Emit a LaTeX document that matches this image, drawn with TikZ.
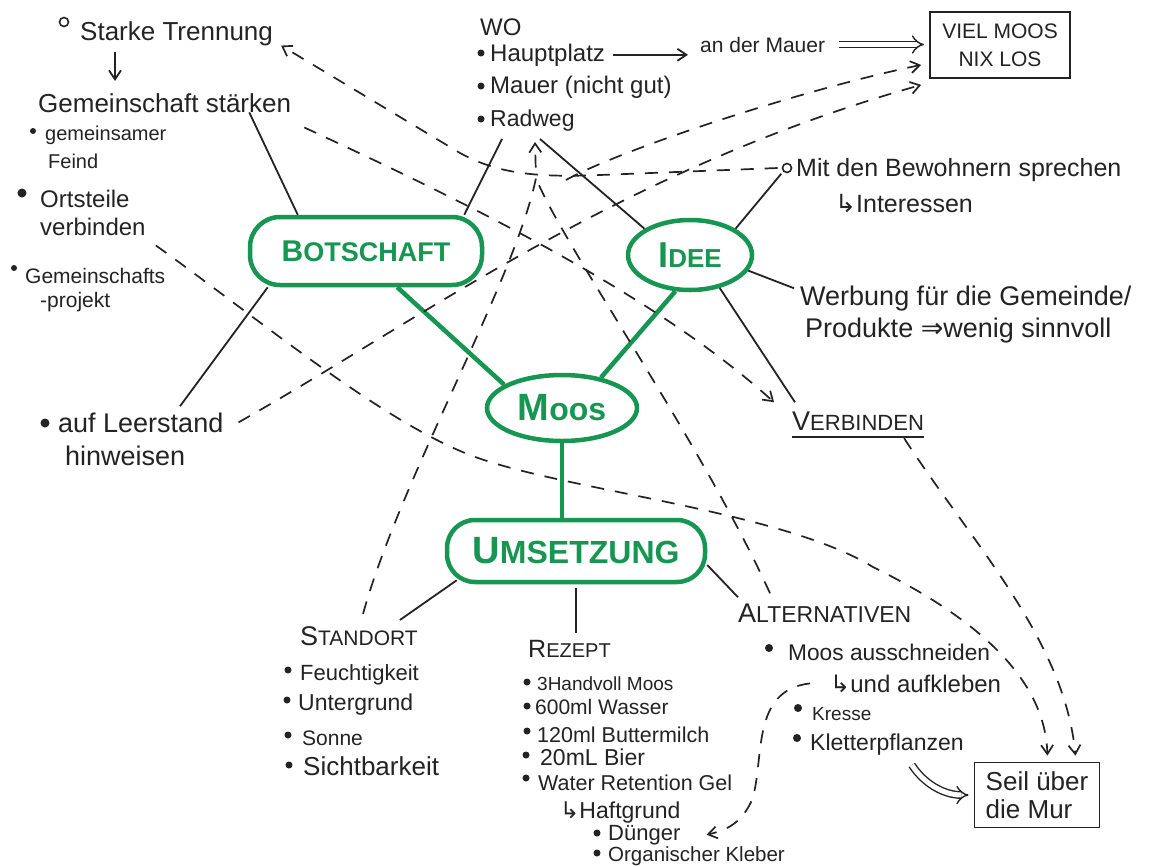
\documentclass[tikz,border=0pt]{standalone}
\usepackage{fontspec}
\setmainfont{Liberation Sans}
\newfontfamily\sym{DejaVu Sans}
\usetikzlibrary{arrows.meta,shapes.geometric,calc}
\definecolor{mgreen}{RGB}{22,150,80}
\definecolor{ink}{RGB}{35,35,35}
\newcommand\FS[1]{\fontsize{#1}{#1}\selectfont}
\newcommand\FSL[2]{\fontsize{#1}{#2}\selectfont}
\begin{document}
\begin{tikzpicture}[x=1pt,y=-1pt,
  >={Straight Barb[length=9pt,width=12pt]},
  txt/.style={anchor=base west, inner sep=0pt, text=ink, font=\FS{#1}},
  txt/.default=22,
  ln/.style={line width=1.8pt, draw=ink},
  dsh/.style={line width=1.7pt, draw=ink, dash pattern=on 13pt off 11pt},
  gln/.style={line width=4.5pt, draw=mgreen},
  gell/.style={ellipse, draw=mgreen, line width=4.5pt, inner sep=0pt, text=mgreen, font=\bfseries},
  grect/.style={rectangle, rounded corners=30pt, draw=mgreen, line width=4.5pt, inner sep=0pt, text=mgreen, font=\bfseries},
  hollow/.style={circle, draw=ink, line width=1.6pt, minimum size=9pt, inner sep=0pt},
  dbl/.style={line width=1.4pt, draw=ink, double, double distance=5pt, -{Implies}},
  sbox/.style={draw=ink, line width=1.8pt, align=center, text=ink, inner sep=0pt}
]
\useasboundingbox (0,0) rectangle (1155,865);
\fill[white] (0,0) rectangle (1155,865);

% ---------- left texts ----------
\node[hollow] (stc) at (64,22) {};
\node[txt=26] (st) at (80,40) {Starke Trennung};
\node[txt=26] (gs) at (38,112) {Gemeinschaft stärken};
\node[txt=20] (gf1) at (45,140) {gemeinsamer};
\node[txt=20] (gf2) at (48,168) {Feind};
\node[txt=24] (ov1) at (40,207) {Ortsteile};
\node[txt=24] (ov2) at (40,235) {verbinden};
\node[txt=21] (gp1) at (25,283) {Gemeinschafts};
\node[txt=21] (gp2) at (40,307) {-projekt};
\node[txt=27] (al1) at (58,432) {auf Leerstand};
\node[txt=27] (al2) at (65,465) {hinweisen};
\fill[ink] (33,131) circle (3pt) (22,193) circle (4.5pt) (14,268) circle (3pt) (45,423) circle (4.5pt);

% ---------- top texts ----------
\node[txt=24] (wo) at (480,35) {WO};
\node[txt=24] (hp) at (490,61) {Hauptplatz};
\node[txt=21] (adm) at (700,52) {an der Mauer};
\node[txt=24] (mn) at (490,93) {Mauer (nicht gut)};
\node[txt=23] (rw) at (490,126) {Radweg};
\fill[ink] (481,53) circle (3.5pt) (481,86) circle (3.5pt) (481,119) circle (3.5pt);
\node[sbox, minimum width=140pt, minimum height=66pt, font=\FSL{21}{28}] (vm) at (1000,45) {VIEL MOOS\\NIX LOS};

\node[hollow] (mc) at (787,168) {};
\node[txt=25] (mit) at (796,176) {Mit den Bewohnern sprechen};
\node[txt=25] (int) at (835,212) {{\sym ↳}Interessen};
\node[txt=27] (wb1) at (800,305) {Werbung für die Gemeinde/};
\node[txt=27] (wb2) at (805,337) {Produkte {\sym ⇒}wenig sinnvoll};
\node[txt=22] (vb) at (792,430) {{\FS{27}V}ERBINDEN};
\draw[ln] ([yshift=-7pt]vb.south west) -- ([yshift=-7pt]vb.south east);

% ---------- bottom texts ----------
\node[txt=21] (sd) at (300,645) {{\FS{27}S}TANDORT};
\node[txt=22] (f1) at (300,680) {Feuchtigkeit};
\node[txt=23] (f2) at (298,710) {Untergrund};
\node[txt=21] (f3) at (302,745) {Sonne};
\node[txt=26] (f4) at (303,775) {Sichtbarkeit};
\fill[ink] (288,670) circle (3.5pt) (287,700) circle (3.5pt) (288,735) circle (3.5pt) (289,765) circle (3.5pt);

\node[txt=20] (rz) at (528,657) {{\FS{25}R}EZEPT};
\node[txt=19] (r1) at (537,690) {3Handvoll Moos};
\node[txt=21] (r2) at (535,714) {600ml Wasser};
\node[txt=21.5] (r3) at (537,742) {120ml Buttermilch};
\node[txt=23] (r4) at (540,765) {20mL Bier};
\node[txt=21.5] (r5) at (538,790) {Water Retention Gel};
\node[txt=23] (r6) at (560,818) {{\sym ↳}Haftgrund};
\node[txt=22] (r7) at (608,840) {Dünger};
\node[txt=20.5] (r8) at (608,861) {Organischer Kleber};
\fill[ink] (527,682) circle (3.5pt) (527,706) circle (3.5pt) (527,731) circle (3.5pt) (526,755) circle (3.5pt) (526,778) circle (3.5pt) (597,833) circle (3.5pt) (597,853) circle (3.5pt);

\node[txt=23] (alt) at (738,622) {{\FS{27}A}LTERNATIVEN};
\node[txt=22.7] (a1) at (788,660) {Moos ausschneiden};
\node[txt=24] (a2) at (830,692) {{\sym ↳}und aufkleben};
\node[txt=19] (a3) at (812,720) {Kresse};
\node[txt=23] (a4) at (810,750) {Kletterpflanzen};
\fill[ink] (769,648) circle (4pt) (798,708) circle (4pt) (797,738) circle (4pt);
\node[sbox, minimum width=125pt, minimum height=65pt, align=left, font=\FSL{26}{28}] (sb) at (1037,795) {Seil über\\die Mur};

% ---------- green nodes ----------
\node[grect, minimum width=232pt, minimum height=68pt] (bot) at (366,251) {{\FS{30}B}{\FS{27}OTSCHAFT}};
\node[gell, minimum width=124pt, minimum height=70pt] (idee) at (690,255) {{\FS{36}I}{\FS{26}DEE}};
\node[gell, minimum width=150pt, minimum height=66pt] (moos) at (562,408) {{\FS{38}M}{\FS{32}oos}};
\node[grect, rounded corners=28pt, minimum width=258pt, minimum height=62pt] (ums) at (576,551) {{\FS{38}U}{\FS{32}MSETZUNG}};

\draw[gln] ([xshift=-87pt]bot.south east) -- (moos.158);
\draw[gln] (idee.248) -- (moos.38);
\draw[gln] (moos.south) -- (moos.south |- ums.north);

% ---------- solid black connectors ----------
\draw[ln] ([xshift=-42pt]gs.south east) -- ([xshift=50pt]bot.north west);
\draw[ln] ([xshift=20pt]bot.south west) -- ([shift={(122pt,6pt)}]al1.north west);
\draw[ln] ([xshift=-20pt]bot.north east) -- ([shift={(12pt,-8pt)}]rw.south west);
\draw[ln] ([shift={(50pt,-8pt)}]rw.south west) -- (idee.150);
\draw[ln] (idee.30) -- ([shift={(-2pt,-2pt)}]mc.south west);
\draw[ln] (idee.-15) -- ([shift={(-6pt,-3pt)}]wb1.north west);
\draw[ln] (idee.-48) -- ([shift={(3pt,9pt)}]vb.north west);
\draw[ln] ([shift={(12pt,4pt)}]ums.south west) -- ([shift={(-18pt,6pt)}]sd.north east);
\draw[ln] ([yshift=-4pt]ums.south) -- ($(ums.south |- rz.north)+(0,7pt)$);
\draw[ln] ([yshift=-14pt]ums.east) -- ([yshift=6pt]alt.north west);

% ---------- arrows ----------
\draw[ln,->] ([shift={(35pt,-6pt)}]st.south west) -- ([shift={(77pt,12pt)}]gs.north west);
\draw[ln,->] ([xshift=8pt]hp.east) -- ([xshift=-12pt]adm.west |- hp.east);
\draw[dbl] ([xshift=14pt]adm.east) -- ([xshift=-5pt]vm.west |- adm.east);
\draw[dbl] ([shift={(-52pt,-10pt)}]a4.south east) .. controls (925,785) and (945,795) .. ([xshift=-5pt]sb.west);

% ---------- dashed connectors ----------
\coordinate (j1) at (566,180);
\coordinate (rwj) at (536,178);
\coordinate (rwin) at (535,142);
\draw[dsh,->] ([xshift=-4pt]mc.west) -- (600,175) .. controls (530,178) and (495,172) .. (460,153) -- ([xshift=8pt]st.south east);
\draw[dsh,->] ([shift={(13pt,-15pt)}]gs.south east) .. controls (450,195) and (650,290) .. ([shift={(-18pt,9pt)}]vb.north west);
\draw[dsh,->] ([xshift=15pt]al1.east) .. controls (420,320) and (620,170) .. ([shift={(-8pt,-6pt)}]vm.south west);
\draw[dsh,->] (j1) .. controls (620,150) and (800,90) .. ([shift={(-8pt,14pt)}]vm.south west);
\draw[dsh,->] ([shift={(63pt,12pt)}]sd.north west) .. controls (400,480) and (515,280) .. (rwj) -- (rwin);
\draw[dsh] ([shift={(32pt,10pt)}]alt.north west) .. controls (700,440) and (560,240) .. (rwj);
\draw[dsh,->] ([shift={(10pt,-10pt)}]ov2.south east) .. controls (260,320) and (380,420) .. (470,455) .. controls (560,490) and (780,510) .. (873,567) .. controls (960,610) and (1045,670) .. ([shift={(-53pt,6pt)}]sb.north east);
\draw[dsh,->] ([shift={(-20pt,-8pt)}]vb.south east) .. controls (970,540) and (1065,640) .. ([shift={(-25pt,6pt)}]sb.north east);
\draw[dsh,->] ([xshift=-20pt]a2.west) .. controls (750,690) and (765,760) .. (752,800) .. controls (742,822) and (728,830) .. ([xshift=26pt]r7.east);
\end{tikzpicture}
\end{document}
